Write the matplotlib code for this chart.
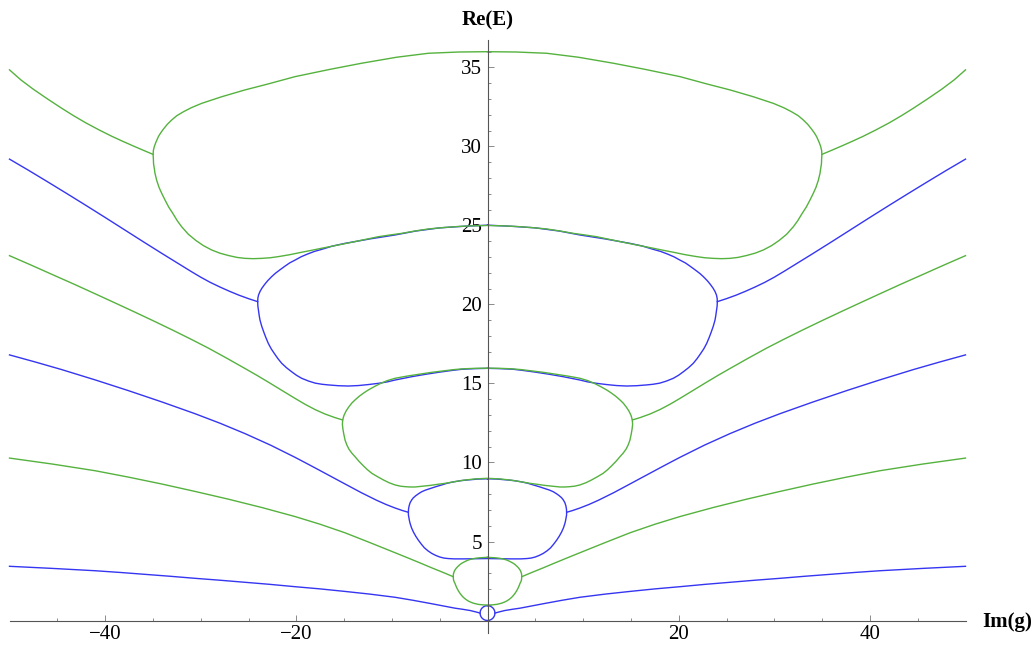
import numpy as np
import matplotlib
matplotlib.use("Agg")
import matplotlib.pyplot as plt

# ---- data (right half, Im(g) >= 0; the figure is mirror-symmetric) ----
# closed "loops": from top point at g=0, around the right side, to bottom point at g=0
b0_loop_x = [0, 0.202, 0.39, 0.552, 0.675, 0.753, 0.78, 0.753, 0.675, 0.552, 0.39, 0.202, 0]
b0_loop_y = [0.94, 0.924, 0.877, 0.802, 0.705, 0.592, 0.47, 0.348, 0.235, 0.138, 0.063, 0.016, 0.0]

g1_loop_x = [0, 0.8, 1.25, 1.66, 2.0, 2.3, 2.70, 2.92, 3.1, 3.27, 3.40, 3.49, 3.55, 3.58, 3.58, 3.57, 3.55, 3.49,
             3.40, 3.31, 3.2, 3.05, 2.88, 2.7, 2.5, 2.25, 2.0, 1.75, 1.5, 1.23, 0.96, 0.5, 0]
g1_loop_y = [4.0, 3.97, 3.94, 3.89, 3.83, 3.75, 3.62, 3.52, 3.42, 3.31, 3.20, 3.09, 2.98, 2.87, 2.77, 2.66, 2.56, 2.45,
             2.35, 2.2, 2.05, 1.88, 1.72, 1.58, 1.45, 1.33, 1.23, 1.16, 1.10, 1.06, 1.02, 0.99, 0.98]

b1_loop_x = [0, 1.0, 2.0, 2.8, 3.5, 4.2, 4.79, 5.4, 6.0, 6.5, 6.88, 7.2, 7.5, 7.75, 7.93, 8.1, 8.2, 8.26, 8.28,
             8.27, 8.22, 8.17, 8.1, 7.95, 7.75, 7.5, 7.24, 6.93, 6.6, 6.23, 5.84, 5.42, 5.0, 4.55, 4.1, 3.5, 2.5, 1.2, 0]
b1_loop_y = [8.97, 8.95, 8.9, 8.85, 8.78, 8.69, 8.58, 8.47, 8.35, 8.25, 8.15, 8.03, 7.9, 7.77, 7.63, 7.45, 7.25, 7.05, 6.85,
             6.67, 6.5, 6.33, 6.15, 5.87, 5.6, 5.33, 5.09, 4.84, 4.6, 4.41, 4.25, 4.12, 4.02, 3.95, 3.92, 3.9, 3.9, 3.91, 3.92]

g2_loop_x = [0, 1.3, 2.5, 3.5, 4.45, 5.8, 7.0, 8.4, 9.67, 10.5, 11.2, 11.85, 12.47, 12.95, 13.4, 13.82, 14.21, 14.53,
             14.8, 15.02, 15.15, 15.18, 15.12, 15.02, 14.9, 14.72, 14.5, 14.2, 13.86, 13.45, 13.0, 12.57, 12.11, 11.5,
             10.9, 10.3, 9.67, 9.1, 8.6, 8.1, 7.58, 6.8, 6.0, 5.2, 4.45, 3.5, 2.5, 1.3, 0]
g2_loop_y = [15.97, 15.96, 15.93, 15.88, 15.81, 15.71, 15.6, 15.47, 15.33, 15.18, 15.0, 14.8, 14.59, 14.4, 14.2, 13.98, 13.75, 13.5,
             13.25, 12.97, 12.69, 12.4, 12.1, 11.76, 11.42, 11.12, 10.85, 10.6, 10.37, 10.08, 9.8, 9.55, 9.32, 9.1,
             8.9, 8.72, 8.58, 8.5, 8.47, 8.45, 8.45, 8.5, 8.55, 8.62, 8.68, 8.78, 8.88, 8.96, 9.0]

b2_loop_x = [0, 2.5, 5.0, 7.5, 9.67, 12.3, 14.9, 16.2, 17.34, 18.1, 18.8, 19.5, 20.1, 20.7, 21.2, 21.7, 22.2, 22.6,
             23.0, 23.3, 23.6, 23.8, 23.95, 24.02, 24.04, 24.02, 23.95, 23.88, 23.8, 23.62, 23.4, 23.18, 22.93, 22.63,
             22.3, 21.93, 21.53, 21.03, 20.5, 19.98, 19.44, 18.7, 18.0, 17.3, 16.65, 15.6, 14.56, 13.5, 12.5, 11.42,
             10.5, 9.67, 7.93, 6.5, 5.0, 3.8, 2.7, 1.3, 0]
b2_loop_y = [25.02, 24.95, 24.85, 24.65, 24.4, 24.15, 23.87, 23.7, 23.49, 23.36, 23.2, 23.02, 22.82, 22.63, 22.42, 22.2, 21.97, 21.75,
             21.5, 21.28, 21.03, 20.82, 20.6, 20.4, 20.18, 19.9, 19.6, 19.3, 19.02, 18.63, 18.25, 17.9, 17.54, 17.2,
             16.9, 16.58, 16.28, 16.0, 15.75, 15.52, 15.33, 15.15, 15.02, 14.95, 14.91, 14.86, 14.84, 14.87, 14.93, 15.01,
             15.1, 15.22, 15.43, 15.58, 15.72, 15.82, 15.9, 15.94, 15.96]

g3_loop_x = [0, 3.0, 6.19, 9.5, 13.16, 16.5, 20.14, 23.0, 25.37, 27.8, 29.9, 31.0, 31.8, 32.5, 33.03, 33.5, 33.9, 34.2,
             34.43, 34.7, 34.85, 34.95, 34.98, 34.95, 34.93, 34.85, 34.78, 34.6, 34.35, 34.05, 33.73, 33.35, 32.9, 32.45,
             31.99, 31.3, 30.5, 29.7, 28.85, 28.0, 27.1, 26.2, 25.37, 24.5, 23.6, 22.7, 21.88, 20.7, 19.5, 18.4, 17.34,
             16.0, 14.5, 13.0, 11.42, 10.2, 9.0, 7.6, 6.19, 4.6, 3.0, 1.5, 0]
g3_loop_y = [36.0, 35.98, 35.9, 35.65, 35.27, 34.88, 34.42, 33.95, 33.58, 33.15, 32.73, 32.45, 32.2, 31.95, 31.68, 31.4, 31.1, 30.85,
             30.62, 30.25, 30.0, 29.75, 29.5, 29.2, 28.9, 28.6, 28.3, 27.85, 27.4, 27.0, 26.61, 26.17, 25.75, 25.3,
             24.92, 24.45, 24.05, 23.72, 23.45, 23.25, 23.1, 22.98, 22.92, 22.9, 22.92, 22.96, 23.03, 23.15, 23.3, 23.43, 23.56,
             23.72, 23.9, 24.09, 24.29, 24.4, 24.5, 24.65, 24.78, 24.87, 24.94, 24.98, 25.0]

# open branches: from the branch point out to Im(g) = 50
b0_out_x = [0.78, 1.2, 1.8, 2.6, 3.4, 4.7, 6.0, 7.8, 9.67, 12.3, 14.9, 17.5, 20.14, 22.8, 25.4, 28.0, 30.6, 33.2,
            35.8, 38.4, 41.05, 45.6, 50]
b0_out_y = [0.47, 0.54, 0.63, 0.71, 0.78, 0.93, 1.08, 1.28, 1.47, 1.67, 1.84, 2.0, 2.14, 2.29, 2.42, 2.55, 2.67, 2.8,
            2.92, 3.04, 3.15, 3.3, 3.43]

g1_out_x = [3.58, 4.2, 5.0, 5.9, 6.88, 8.2, 9.67, 12.3, 14.9, 17.5, 20.14, 23.6, 27.11, 30.6, 34.08, 37.6, 41.05, 45.5, 50]
g1_out_y = [2.77, 2.93, 3.13, 3.35, 3.60, 3.93, 4.29, 4.93, 5.55, 6.09, 6.58, 7.15, 7.68, 8.17, 8.64, 9.08, 9.48, 9.90, 10.28]

b1_out_x = [8.28, 8.9, 9.67, 10.6, 11.6, 13.2, 14.9, 16.5, 18.04, 19.1, 20.14, 22.7, 25.37, 28.0, 30.6, 34.0, 37.57,
            41.0, 44.54, 47.3, 50]
b1_out_y = [6.85, 6.96, 7.12, 7.34, 7.61, 8.09, 8.64, 9.16, 9.66, 10.0, 10.33, 11.10, 11.83, 12.49, 13.09, 13.82, 14.55,
            15.22, 15.88, 16.36, 16.81]

g2_out_x = [15.15, 16.0, 17.0, 18.04, 19.1, 20.14, 21.5, 22.8, 24.1, 25.37, 27.3, 29.2, 30.94, 32.87, 35.0, 37.0, 39.0,
            41.05, 43.3, 45.5, 47.8, 50]
g2_out_y = [12.69, 12.85, 13.07, 13.35, 13.69, 14.06, 14.56, 15.04, 15.51, 15.95, 16.61, 17.24, 17.78, 18.36, 18.98, 19.55, 20.11,
            20.68, 21.3, 21.89, 22.51, 23.09]

b2_out_x = [24.04, 25.0, 26.0, 27.0, 28.0, 29.0, 30.0, 31.0, 32.5, 34.0, 36.0, 38.0, 40.0, 42.0, 44.0, 46.0, 48.0, 50.0]
b2_out_y = [20.18, 20.37, 20.59, 20.84, 21.11, 21.40, 21.73, 22.09, 22.65, 23.21, 23.97, 24.74, 25.51, 26.27, 27.02, 27.76,
            28.49, 29.2]

g3_out_x = [34.98, 36.0, 37.0, 38.2, 39.31, 40.6, 42.0, 43.3, 44.54, 46.0, 47.5, 48.8, 50]
g3_out_y = [29.5, 29.76, 30.02, 30.34, 30.65, 31.04, 31.49, 31.95, 32.42, 33.0, 33.62, 34.21, 34.85]

x_major = [-40, -20, 20, 40]
y_major = [5, 10, 15, 20, 25, 30, 35]

BLUE = "#3535f2"
GREEN = "#55b23e"

plt.rcParams["font.family"] = ["Liberation Serif", "DejaVu Serif"]

fig = plt.figure(figsize=(10.36, 6.5), dpi=100)
ax = fig.add_axes([9.5 / 1036, (650 - 633.3) / 650, 956 / 1036, (633.3 - 40) / 650])
ax.set_xlim(-50, 50)
ax.set_ylim(-0.81, 36.74)


def loop(xs, ys, color):
    xs = np.asarray(xs, float)
    ys = np.asarray(ys, float)
    X = np.concatenate([xs, -xs[::-1]])
    Y = np.concatenate([ys, ys[::-1]])
    ax.plot(X, Y, color=color, lw=1.0, solid_joinstyle="round", clip_on=False)


def branch(xs, ys, color):
    xs = np.asarray(xs, float)
    ys = np.asarray(ys, float)
    ax.plot(xs, ys, color=color, lw=1.0, solid_joinstyle="round", clip_on=False)
    ax.plot(-xs, ys, color=color, lw=1.0, solid_joinstyle="round", clip_on=False)


for lx, ly in [(b0_loop_x, b0_loop_y), (b1_loop_x, b1_loop_y), (b2_loop_x, b2_loop_y)]:
    loop(lx, ly, BLUE)
for bx, by in [(b0_out_x, b0_out_y), (b1_out_x, b1_out_y), (b2_out_x, b2_out_y)]:
    branch(bx, by, BLUE)
for lx, ly in [(g1_loop_x, g1_loop_y), (g2_loop_x, g2_loop_y), (g3_loop_x, g3_loop_y)]:
    loop(lx, ly, GREEN)
for bx, by in [(g1_out_x, g1_out_y), (g2_out_x, g2_out_y), (g3_out_x, g3_out_y)]:
    branch(bx, by, GREEN)

# axes through the origin
for s in ["top", "right"]:
    ax.spines[s].set_visible(False)
ax.spines["left"].set_position(("data", 0))
ax.spines["bottom"].set_position(("data", 0))
for s in ["left", "bottom"]:
    ax.spines[s].set_color("#555555")
    ax.spines[s].set_linewidth(0.8)
ax.patch.set_visible(False)

ax.set_xticks(x_major)
ax.set_xticklabels([f"\u2212{abs(v)}" if v < 0 else str(v) for v in x_major])
ax.set_xticks([v for v in range(-45, 50, 5) if v % 20 != 0], minor=True)
ax.set_yticks(y_major)
ax.set_yticklabels([str(v) for v in y_major])
ax.set_yticks([v for v in range(1, 37) if v % 5 != 0], minor=True)

ax.tick_params(which="both", direction="in", color="#777777", width=0.6, labelsize=15, labelcolor="black")
ax.tick_params(which="major", length=4.0)
ax.tick_params(which="minor", length=2.0)
ax.tick_params(axis="x", pad=3)
ax.tick_params(axis="y", pad=4)

fig.text(487.5 / 1036, 1 - 25 / 650, "Re(E)", ha="center", va="baseline", fontsize=15, fontweight="bold")
fig.text(982 / 1036, 1 - 627 / 650, "Im(g)", ha="left", va="baseline", fontsize=15, fontweight="bold")

fig.savefig("out.png", dpi=100)
